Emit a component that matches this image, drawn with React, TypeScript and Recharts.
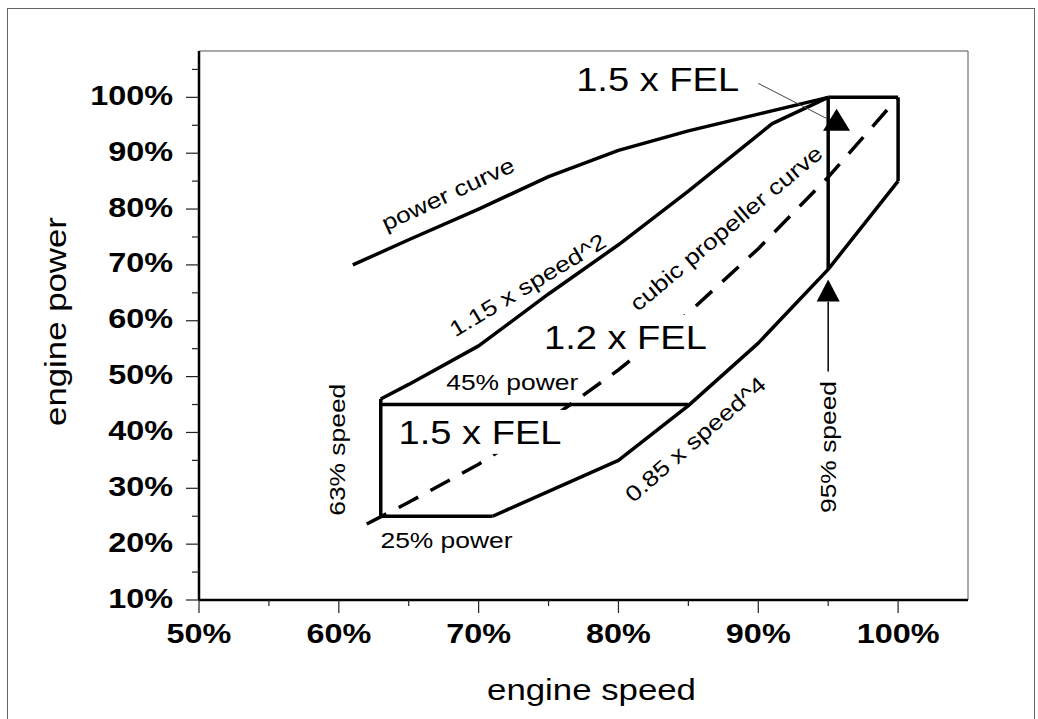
import React from 'react';
import { ComposedChart, Line, XAxis, YAxis, ReferenceLine, ReferenceDot } from 'recharts';

// values, in % of rated speed / power
const powerCurve = [
  { x: 61, y: 70 }, { x: 65, y: 74.5 }, { x: 70, y: 80 }, { x: 75, y: 85.8 },
  { x: 80, y: 90.5 }, { x: 85, y: 94 }, { x: 90, y: 97 }, { x: 95, y: 100 },
];
const speedSquared = [
  { x: 63, y: 46 }, { x: 65, y: 48.6 }, { x: 70, y: 55.5 }, { x: 75, y: 64.8 },
  { x: 80, y: 73.6 }, { x: 85, y: 83.2 }, { x: 91, y: 95.3 }, { x: 95, y: 100 },
];
const speedFourth = [
  { x: 71, y: 25 }, { x: 80, y: 35 }, { x: 85, y: 44.8 }, { x: 90, y: 56 },
  { x: 95, y: 69.2 }, { x: 100, y: 85 },
];
const cubicPropeller = [
  { x: 62, y: 23.6 }, { x: 65, y: 27.5 }, { x: 70, y: 34.3 }, { x: 75, y: 42.2 },
  { x: 80, y: 51.2 }, { x: 85, y: 61.4 }, { x: 90, y: 72.9 }, { x: 95, y: 85.7 }, { x: 100, y: 100 },
];
const speed63 = [{ x: 63, y: 25 }, { x: 63, y: 46 }];
const power45 = [{ x: 63, y: 45 }, { x: 85, y: 45 }];
const power25 = [{ x: 63, y: 25 }, { x: 71, y: 25 }];
const speed95 = [{ x: 95, y: 69.2 }, { x: 95, y: 100 }];
const topEdge = [{ x: 95, y: 100 }, { x: 100, y: 100 }];
const rightEdge = [{ x: 100, y: 100 }, { x: 100, y: 85 }];
const arrowStem = [{ x: 95, y: 63.4 }, { x: 95, y: 50.9 }];
const leader = [{ x: 90, y: 102.5 }, { x: 94.9, y: 96.2 }];
const upperArrow = [{ x: 95.6, y: 96 }];
const lowerArrow = [{ x: 95, y: 65.4 }];

const xTicks = [50, 55, 60, 65, 70, 75, 80, 85, 90, 95, 100];
const yTicks = [10, 15, 20, 25, 30, 35, 40, 45, 50, 55, 60, 65, 70, 75, 80, 85, 90, 95, 100, 105];

const annotations = [
  { text: '1.5 x FEL', x: 82.8, y: 103.3 },
  { text: 'power curve', x: 67.8, y: 82.7 },
  { text: '1.15 x speed^2', x: 73.5, y: 66.4 },
  { text: 'cubic propeller curve', x: 87.7, y: 76.6 },
  { text: '1.2 x FEL', x: 80.5, y: 57.1 },
  { text: '45% power', x: 72.4, y: 49.0 },
  { text: '1.5 x FEL', x: 70.1, y: 40.1 },
  { text: '63% speed', x: 59.9, y: 36.9 },
  { text: '25% power', x: 67.7, y: 20.7 },
  { text: '0.85 x speed^4', x: 85.5, y: 38.8 },
  { text: '95% speed', x: 95.0, y: 37.4 },
];
// angle, size and white backing box for each annotation, same order
const annotationStyle = [
  { angle: 0, size: 34, box: 0 }, { angle: -25, size: 22, box: 0 }, { angle: -31, size: 22, box: 0 },
  { angle: -40, size: 22, box: 0 }, { angle: 0, size: 34, box: 1 }, { angle: 0, size: 22, box: 0 },
  { angle: 0, size: 34, box: 1 }, { angle: -90, size: 22, box: 0 }, { angle: 0, size: 22, box: 0 },
  { angle: -41, size: 22, box: 0 }, { angle: -90, size: 22, box: 0 },
];

const FONT = '"Liberation Sans", Arial, sans-serif';
const STRETCH = 1.2;

const YTick = ({ x, y, payload }: any) => {
  const v = payload.value;
  const major = v % 10 === 0;
  return (
    <g>
      <line x1={x - (major ? 13 : 7)} x2={x} y1={y} y2={y} stroke="#222" strokeWidth={1.2} />
      {major && (
        <text transform={`translate(${x - 26},${y - 2}) scale(1.2,1)`} textAnchor="end"
          dominantBaseline="central" fontSize={27} fontWeight="bold" fontFamily={FONT} fill="#000">
          {v}%
        </text>
      )}
    </g>
  );
};

const XTick = ({ x, y, payload }: any) => {
  const v = payload.value;
  const major = v % 10 === 0;
  return (
    <g>
      <line x1={x} x2={x} y1={y} y2={y + (major ? 13 : 6)} stroke="#222" strokeWidth={1.2} />
      {major && (
        <text transform={`translate(${x},${y + 33}) scale(1.2,1)`} textAnchor="middle"
          dominantBaseline="central" fontSize={27} fontWeight="bold" fontFamily={FONT} fill="#000">
          {v}%
        </text>
      )}
    </g>
  );
};

const triangle = (w: number, h: number) => (props: any) => {
  const { cx, cy } = props;
  if (cx == null || cy == null) return <g key="t" />;
  const pts = `${cx},${cy - h / 2} ${cx - w / 2},${cy + h / 2} ${cx + w / 2},${cy + h / 2}`;
  return <polygon key={`t-${cx}-${cy}`} points={pts} fill="#000" />;
};

const seg = (data: any[], width = 3.5, dash?: string, color = '#000') => (
  <Line
    data={data}
    dataKey="y"
    type="linear"
    stroke={color}
    strokeWidth={width}
    strokeDasharray={dash}
    strokeLinejoin="round"
    dot={false}
    activeDot={false}
    isAnimationActive={false}
  />
);

export default function App() {
  return (
    <div style={{ position: 'absolute', left: 0, top: 0, width: 1038, height: 719, background: '#fff', overflow: 'hidden' }}>
      <div style={{ position: 'absolute', left: 7, top: 8, width: 1028, height: 720, border: '1px solid #666', boxSizing: 'border-box' }} />
      <div style={{ position: 'absolute', left: 0, top: 0 }}>
        <ComposedChart width={1038} height={719} margin={{ top: 51, right: 70, left: 79, bottom: 59 }}>
          <XAxis
            type="number"
            dataKey="x"
            domain={[50, 105]}
            ticks={xTicks}
            interval={0}
            tickSize={0}
            tickMargin={0}
            tickLine={false}
            tick={<XTick />}
            height={60}
            axisLine={{ stroke: '#000', strokeWidth: 2.5 }}
            allowDataOverflow
            label={{
              content: ({ viewBox }: any) => (
                <text transform={`translate(${viewBox.x + viewBox.width / 2 + 8},${viewBox.y + 90}) scale(${STRETCH},1)`}
                  textAnchor="middle" dominantBaseline="central" fontSize={29} fontFamily={FONT} fill="#000">
                  engine speed
                </text>
              ),
            }}
          />
          <YAxis
            type="number"
            domain={[10, 108.3]}
            ticks={yTicks}
            interval={0}
            tickSize={0}
            tickMargin={0}
            tickLine={false}
            tick={<YTick />}
            width={120}
            axisLine={{ stroke: '#000', strokeWidth: 2.5 }}
            allowDataOverflow
            label={{
              content: ({ viewBox }: any) => (
                <text transform={`translate(${viewBox.x - 23},${viewBox.y + viewBox.height / 2 - 4}) rotate(-90) scale(${STRETCH},1)`}
                  textAnchor="middle" dominantBaseline="central" fontSize={29} fontFamily={FONT} fill="#000">
                  engine power
                </text>
              ),
            }}
          />
          <ReferenceLine y={108.3} stroke="#555" strokeWidth={1} />
          <ReferenceLine x={105} stroke="#555" strokeWidth={1} />

          {seg(cubicPropeller, 3.5, '22 14')}
          {seg(powerCurve)}
          {seg(speedSquared)}
          {seg(speedFourth)}
          {seg(speed63)}
          {seg(power45)}
          {seg(power25)}
          {seg(speed95)}
          {seg(topEdge)}
          {seg(rightEdge)}
          {seg(arrowStem, 1.5)}
          {seg(leader, 1, undefined, '#444')}

          <Line data={upperArrow} dataKey="y" stroke="none" dot={triangle(27, 22)} activeDot={false} isAnimationActive={false} />
          <Line data={lowerArrow} dataKey="y" stroke="none" dot={triangle(23, 22)} activeDot={false} isAnimationActive={false} />

          {annotations.map((a, i) => {
            const st = annotationStyle[i];
            const stretch = st.size > 30 ? 1.12 : STRETCH;
            return (
              <ReferenceDot
                key={i}
                x={a.x}
                y={a.y}
                r={0}
                shape={(p: any) => (
                  <g>
                    {st.box ? (
                      <rect x={p.cx - 90} y={p.cy - 22} width={180} height={44} fill="#fff" />
                    ) : null}
                    <text
                      transform={`translate(${p.cx},${p.cy}) rotate(${st.angle}) scale(${stretch},1)`}
                      textAnchor="middle"
                      dominantBaseline="central"
                      fontSize={st.size}
                      fontFamily={FONT}
                      fill="#000"
                    >
                      {a.text}
                    </text>
                  </g>
                )}
              />
            );
          })}
        </ComposedChart>
      </div>
    </div>
  );
}
